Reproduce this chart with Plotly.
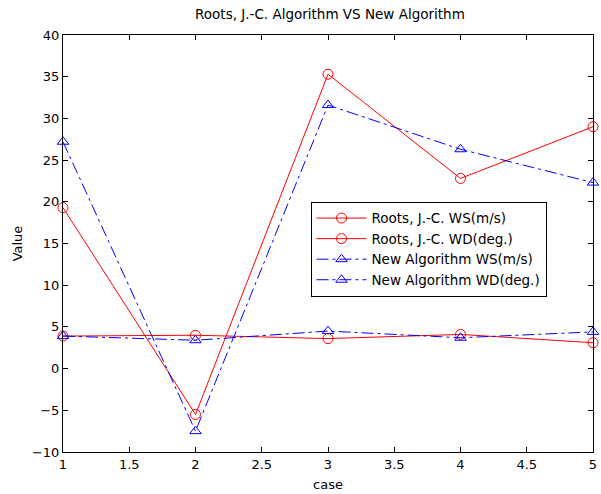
import plotly.graph_objects as go

cases = [1, 2, 3, 4, 5]
roots_ws = [3.9, 4.0, 3.6, 4.1, 3.1]
roots_wd = [19.3, -5.5, 35.3, 22.8, 29.0]
new_ws = [3.9, 3.4, 4.5, 3.7, 4.4]
new_wd = [27.2, -7.5, 31.6, 26.3, 22.3]

names = ["Roots, J.-C. WS(m/s)", "Roots, J.-C. WD(deg.)",
         "New Algorithm WS(m/s)", "New Algorithm WD(deg.)"]

RED = "#FF0000"
BLUE = "#0000FF"
FONT = "DejaVu Sans, Arial, sans-serif"
FS = 13
FL = 13.5

fig = go.Figure()
series = [(roots_ws, RED, "solid", "circle-open"),
          (roots_wd, RED, "solid", "circle-open"),
          (new_ws, BLUE, "12px,4px,3px,4px", "triangle-up-open"),
          (new_wd, BLUE, "12px,4px,3px,4px", "triangle-up-open")]
for (vals, col, dash, sym), nm in zip(series, names):
    fig.add_trace(go.Scatter(
        x=cases, y=vals, name=nm, mode="lines+markers",
        line=dict(color=col, width=1, dash=dash),
        marker=dict(symbol=sym, size=10, color=col, line=dict(width=1, color=col)),
        cliponaxis=False))

axis_common = dict(showline=True, linecolor="black", linewidth=1, mirror="ticks",
                   ticks="inside", ticklen=5, tickcolor="black", showgrid=False,
                   zeroline=False, ticklabeloverflow="allow",
                   tickfont=dict(size=FS, color="black", family=FONT))

fig.update_xaxes(range=[1, 5], tickmode="linear", tick0=1, dtick=0.5,
                 title=dict(text="case", font=dict(size=FS, color="black", family=FONT), standoff=9),
                 **axis_common)
fig.update_yaxes(range=[-10, 40], tickmode="linear", tick0=-10, dtick=5,
                 title=dict(text="Value", font=dict(size=FS, color="black", family=FONT), standoff=6),
                 **axis_common)

fig.update_layout(
    width=601, height=494,
    margin=dict(l=63, r=4, t=35, b=41),
    paper_bgcolor="white", plot_bgcolor="white",
    title=dict(text="Roots, J.-C. Algorithm VS New Algorithm", x=0.549, xanchor="center",
               y=0.972, yanchor="middle",
               font=dict(size=FL, color="black", family=FONT)),
    font=dict(family=FONT, size=FS, color="black"),
    legend=dict(x=0.467, y=0.6, xanchor="left", yanchor="top",
                bgcolor="white", bordercolor="black", borderwidth=1,
                itemwidth=50, tracegroupgap=0,
                font=dict(size=FL, color="black", family=FONT)),
    showlegend=True,
)

fig.write_html("out.html", config={"displayModeBar": False},
               post_script="document.body.style.margin='0';document.body.style.overflow='hidden';")
